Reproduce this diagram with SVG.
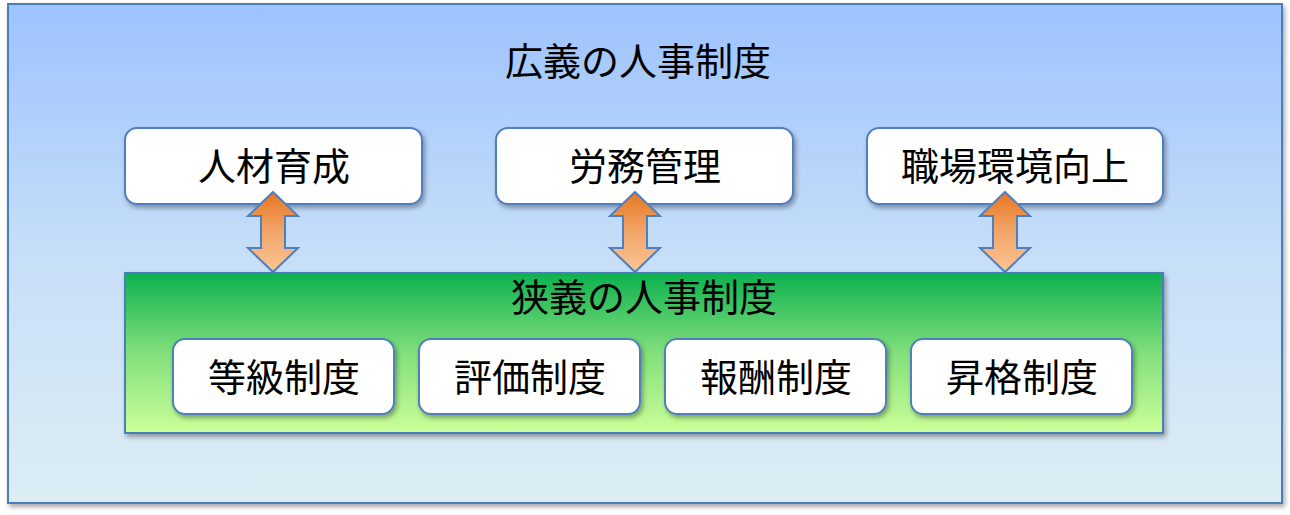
<svg xmlns="http://www.w3.org/2000/svg" width="1290" height="515" viewBox="0 0 1290 515">
<defs>
<linearGradient id="gOuter" x1="0" y1="0" x2="0" y2="1">
<stop offset="0" stop-color="#9dc3fe"/>
<stop offset="0.5" stop-color="#c6def8"/>
<stop offset="1" stop-color="#dcedf3"/>
</linearGradient>
<linearGradient id="gGreen" x1="0" y1="0" x2="0" y2="1">
<stop offset="0" stop-color="#0db14f"/>
<stop offset="0.5" stop-color="#82df7c"/>
<stop offset="1" stop-color="#ccff98"/>
</linearGradient>
<linearGradient id="gArrow" x1="0" y1="0" x2="0" y2="1">
<stop offset="0" stop-color="#e8761f"/>
<stop offset="0.5" stop-color="#f2a56a"/>
<stop offset="1" stop-color="#fbc594"/>
</linearGradient>
<filter id="sh" x="-10%" y="-10%" width="125%" height="130%">
<feGaussianBlur in="SourceAlpha" stdDeviation="2.5"/>
<feOffset dx="2" dy="3" result="b"/>
<feComponentTransfer><feFuncA type="linear" slope="0.35"/></feComponentTransfer>
<feMerge><feMergeNode/><feMergeNode in="SourceGraphic"/></feMerge>
</filter>
<style>
.box{fill:#fff;stroke:#4f7fbf;stroke-width:2;filter:url(#sh)}
.t{font-family:"Noto Sans CJK JP","Noto Sans CJK SC",sans-serif;font-size:38px;fill:#000;text-anchor:middle;dominant-baseline:central}
.arr{fill:url(#gArrow);stroke:#4f7fbf;stroke-width:2;stroke-linejoin:miter}
</style>
</defs>
<g id="outer">
<rect x="8" y="4" width="1274" height="499" fill="url(#gOuter)" stroke="#4a7ebb" stroke-width="2" filter="url(#sh)"/>
<text class="t" x="638" y="58">広義の人事制度</text>
</g>
<g id="narrow">
<rect x="125" y="273" width="1038" height="160" fill="url(#gGreen)" stroke="#4a7ebb" stroke-width="2" filter="url(#sh)"/>
<text class="t" x="644" y="294">狭義の人事制度</text>
</g>
<g id="n1"><rect class="box" x="125" y="128" width="297" height="76" rx="12"/><text class="t" x="274" y="163">人材育成</text></g>
<g id="n2"><rect class="box" x="496" y="128" width="297" height="76" rx="12"/><text class="t" x="645" y="163">労務管理</text></g>
<g id="n3"><rect class="box" x="867" y="128" width="296" height="76" rx="12"/><text class="t" x="1015" y="163">職場環境向上</text></g>
<g id="s1"><rect class="box" x="173" y="339" width="221" height="75" rx="12"/><text class="t" x="284" y="374">等級制度</text></g>
<g id="s2"><rect class="box" x="419" y="339" width="221" height="75" rx="12"/><text class="t" x="530" y="374">評価制度</text></g>
<g id="s3"><rect class="box" x="665" y="339" width="221" height="75" rx="12"/><text class="t" x="776" y="374">報酬制度</text></g>
<g id="s4"><rect class="box" x="911" y="339" width="221" height="75" rx="12"/><text class="t" x="1022" y="374">昇格制度</text></g>
<g id="connectors">
<path class="arr" d="M273 192 L298 216 L285 216 L285 248 L298 248 L273 272 L248 248 L261 248 L261 216 L248 216 Z"/>
<path class="arr" d="M635 192 L660 216 L647 216 L647 248 L660 248 L635 272 L610 248 L623 248 L623 216 L610 216 Z"/>
<path class="arr" d="M1005 192 L1030 216 L1017 216 L1017 248 L1030 248 L1005 272 L980 248 L993 248 L993 216 L980 216 Z"/>
</g>
</svg>
